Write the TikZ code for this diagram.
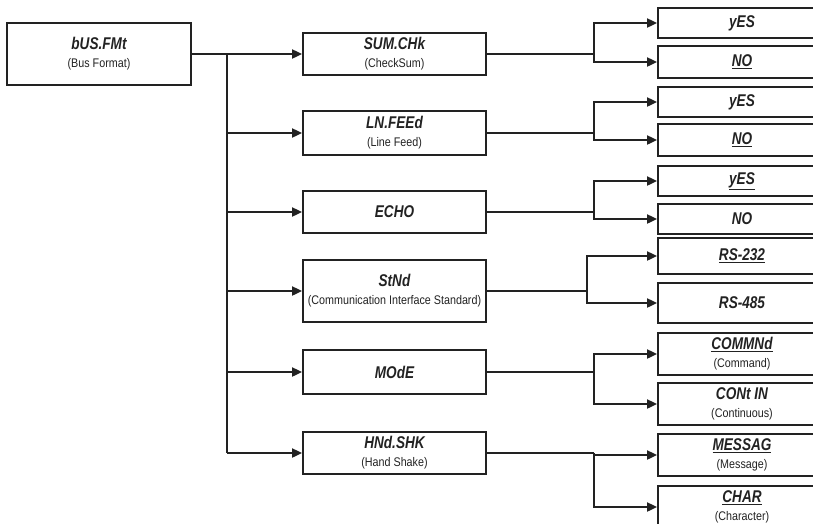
\documentclass[tikz,border=0pt]{standalone}
\usepackage{fontspec}
\setmainfont{Liberation Sans}
\newfontfamily\ttlfam[FakeStretch=0.8]{Liberation Sans}
\newfontfamily\sbtfam[FakeStretch=0.86]{Liberation Sans}
\usetikzlibrary{arrows.meta}
\definecolor{ink}{HTML}{222222}
\newcommand{\ttl}[1]{{\ttlfam\fontsize{17}{18}\selectfont\bfseries\itshape #1}}
\newcommand{\sbt}[1]{{\sbtfam\fontsize{12.5}{18}\selectfont #1}}
\tikzset{
  box/.style={draw=ink, line width=1.8pt, rectangle, inner sep=0pt, align=center, text=ink,
    font=\sbtfam\fontsize{12.5}{18}\selectfont},
  leftbox/.style={box, minimum width=184pt},
  midbox/.style={box, minimum width=183pt},
  rightbox/.style={box, minimum width=168pt},
  conn/.style={draw=ink, line width=1.9pt},
  arr/.style={conn, -{Triangle[length=10pt,width=9pt]}}
}
\begin{document}
\begin{tikzpicture}[x=1pt,y=-1pt]
\useasboundingbox (0,0) rectangle (813,523);
\clip (0,0) rectangle (813,523);
% root
\node[leftbox, minimum height=62pt] (root) at (99,54) {\ttl{bUS.FMt}\\\sbt{(Bus Format)}};
% middle
\node[midbox, minimum height=42pt] (sum) at (394.5,54) {\ttl{SUM.CHk}\\\sbt{(CheckSum)}};
\node[midbox, minimum height=44pt] (lnf) at (394.5,133) {\ttl{LN.FEEd}\\\sbt{(Line Feed)}};
\node[midbox, minimum height=42pt] (echo) at (394.5,212) {\ttl{ECHO}};
\node[midbox, minimum height=62pt] (stnd) at (394.5,291) {\ttl{StNd}\\\sbt{(Communication Interface Standard)}};
\node[midbox, minimum height=44pt] (mode) at (394.5,372) {\ttl{MOdE}};
\node[midbox, minimum height=42pt] (hnd) at (394.5,453) {\ttl{HNd.SHK}\\\sbt{(Hand Shake)}};
% right
\node[rightbox, minimum height=30pt] (yes1) at (742,23) {\ttl{yES}};
\node[rightbox, minimum height=32pt] (no1) at (742,62) {\ttl{\underline{NO}}};
\node[rightbox, minimum height=30pt] (yes2) at (742,102) {\ttl{yES}};
\node[rightbox, minimum height=32pt] (no2) at (742,140) {\ttl{\underline{NO}}};
\node[rightbox, minimum height=30pt] (yes3) at (742,181) {\ttl{\underline{yES}}};
\node[rightbox, minimum height=30pt] (no3) at (742,219) {\ttl{NO}};
\node[rightbox, minimum height=36pt] (rs232) at (742,256) {\ttl{\underline{RS-232}}};
\node[rightbox, minimum height=40pt] (rs485) at (742,303) {\ttl{RS-485}};
\node[rightbox, minimum height=42pt] (comm) at (742,354) {\ttl{\underline{COMMNd}}\\\sbt{(Command)}};
\node[rightbox, minimum height=42pt] (cont) at (742,404) {\ttl{CONt IN}\\\sbt{(Continuous)}};
\node[rightbox, minimum height=42pt] (mess) at (742,455) {\ttl{\underline{MESSAG}}\\\sbt{(Message)}};
\node[rightbox, minimum height=42pt] (char) at (742,507) {\ttl{\underline{CHAR}}\\\sbt{(Character)}};
% trunk
\coordinate (tr) at (227,0);
\draw[conn] (root.east) -- (root.east -| tr) -- (hnd.west -| tr);
\foreach \n in {sum,lnf,echo,stnd,mode,hnd}{
  \draw[arr] (\n.west -| tr) -- (\n.west);
}
% branches
\coordinate (ba) at (594,0);
\coordinate (bb) at (587,0);
\draw[conn] (sum.east) -- (sum.east -| ba);
\draw[arr] (sum.east -| ba) |- (yes1.west);
\draw[arr] (sum.east -| ba) |- (no1.west);
\draw[conn] (lnf.east) -- (lnf.east -| ba);
\draw[arr] (lnf.east -| ba) |- (yes2.west);
\draw[arr] (lnf.east -| ba) |- (no2.west);
\draw[conn] (echo.east) -- (echo.east -| ba);
\draw[arr] (echo.east -| ba) |- (yes3.west);
\draw[arr] (echo.east -| ba) |- (no3.west);
\draw[conn] (stnd.east) -- (stnd.east -| bb);
\draw[arr] (stnd.east -| bb) |- (rs232.west);
\draw[arr] (stnd.east -| bb) |- (rs485.west);
\draw[conn] (mode.east) -- (mode.east -| ba);
\draw[arr] (mode.east -| ba) |- (comm.west);
\draw[arr] (mode.east -| ba) |- (cont.west);
\draw[conn] (hnd.east) -- (hnd.east -| ba);
\draw[arr] (hnd.east -| ba) |- (mess.west);
\draw[arr] (hnd.east -| ba) |- (char.west);
\end{tikzpicture}
\end{document}
